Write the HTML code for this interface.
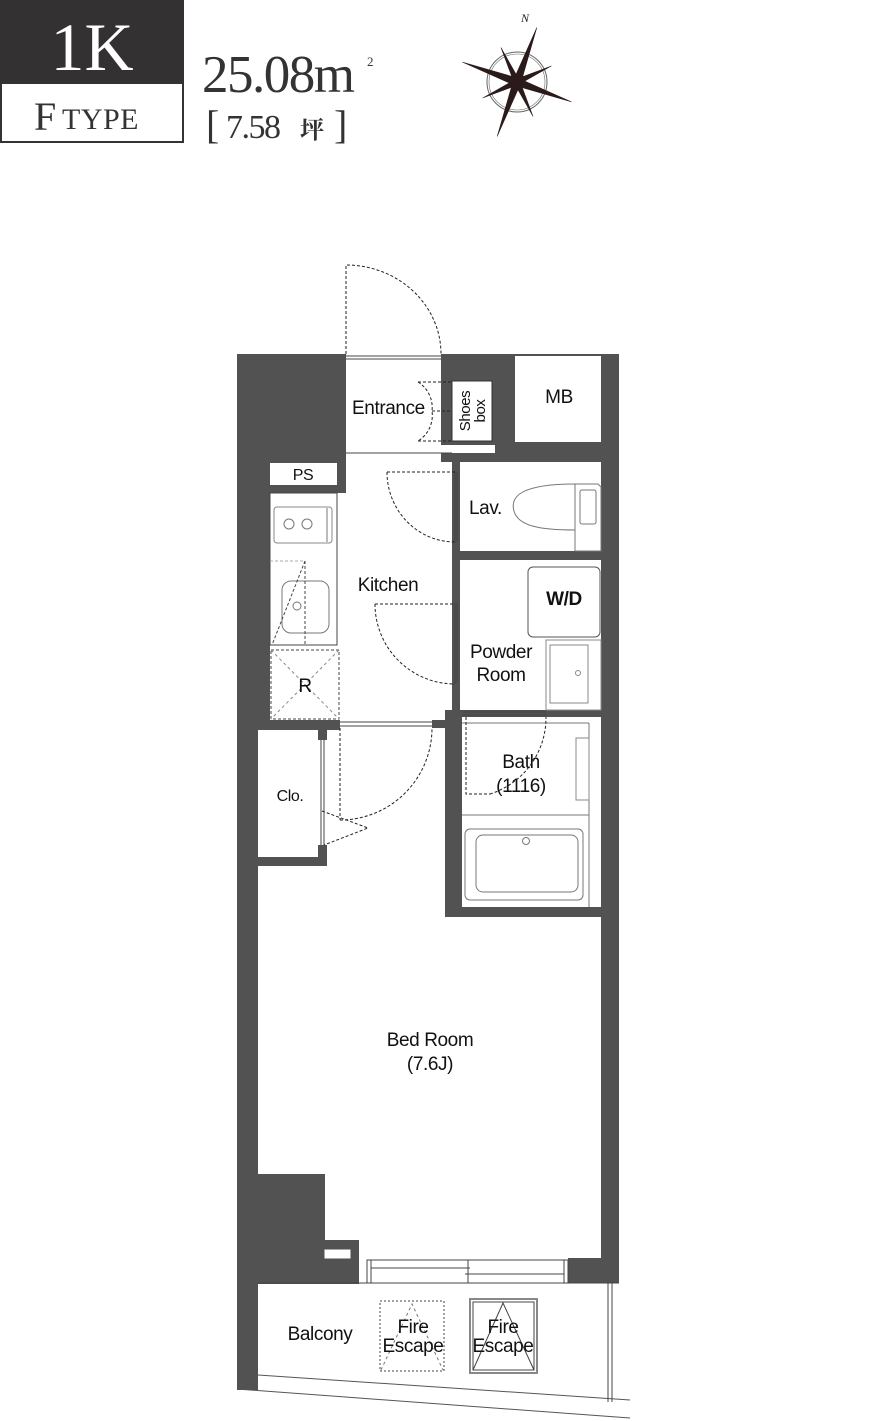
<!DOCTYPE html>
<html><head><meta charset="utf-8"><style>
html,body{margin:0;padding:0;background:#fff;}
svg{display:block}
.s{font-family:"Liberation Sans",sans-serif;fill:#111;}
.r{font-family:"Liberation Serif","Noto Serif CJK SC",serif;}
</style></head><body>
<svg width="870" height="1421" viewBox="0 0 870 1421" xmlns="http://www.w3.org/2000/svg">
<!-- header -->
<rect x="0" y="0" width="184" height="82" fill="#333132"/>
<text x="92" y="70" text-anchor="middle" class="r" font-size="68" fill="#fff">1K</text>
<rect x="1" y="83" width="182" height="59" fill="#fff" stroke="#333" stroke-width="2"/>
<text x="34" y="130" class="r" font-size="40" fill="#333">F</text>
<text x="62" y="129" class="r" font-size="30" fill="#333" letter-spacing="0.5">TYPE</text>
<text x="202" y="92" class="r" font-size="53" fill="#333" letter-spacing="-1.5">25.08m</text>
<text x="367" y="66" class="r" font-size="13" fill="#333">2</text>
<text x="206" y="138" class="r" font-size="40" fill="#333">[</text>
<text x="226" y="138" class="r" font-size="34" fill="#333" letter-spacing="-1.5">7.58</text>
<text x="300" y="138" class="r" font-size="24" fill="#333" font-weight="bold">坪</text>
<text x="334" y="138" class="r" font-size="40" fill="#333">]</text>
<!-- compass -->
<g transform="translate(517,82)" fill="#2a1a1a" stroke="#2a1a1a">
<circle r="30" fill="none" stroke="#666" stroke-width="1"/>
<circle r="28" fill="none" stroke="#666" stroke-width="0.6"/>
<g stroke-width="0.5">
<polygon points="0,-58 4,0 0,58 -4,0" transform="rotate(20)"/>
<polygon points="0,-58 4,0 0,58 -4,0" transform="rotate(110)"/>
<polygon points="0,-38 3,0 0,38 -3,0" transform="rotate(-25)"/>
<polygon points="0,-38 3,0 0,38 -3,0" transform="rotate(65)"/>
</g>
<text x="4" y="-60" font-family="Liberation Serif,serif" font-style="italic" font-size="12" stroke="none">N</text>
</g>
<!-- walls -->
<g fill="#525252">
<rect x="237" y="354" width="109" height="139"/>
<rect x="237" y="354" width="33" height="372"/>
<rect x="237" y="354" width="21" height="1036"/>
<polygon points="237,1380 258,1383 258,1390 237,1388"/>
<rect x="441" y="354" width="178" height="108"/>
<rect x="601" y="354" width="18" height="929"/>
<rect x="452" y="453" width="8" height="264"/>
<rect x="452" y="551" width="150" height="9"/>
<rect x="445" y="710" width="157" height="7"/>
<rect x="445" y="710" width="17" height="207"/>
<rect x="445" y="907" width="157" height="10"/>
<rect x="258" y="720" width="82" height="10"/>
<rect x="432" y="720" width="20" height="8"/>
<rect x="318" y="720" width="9" height="20"/>
<rect x="318" y="845" width="9" height="21"/>
<rect x="258" y="857" width="69" height="9"/>
<rect x="258" y="1174" width="67" height="110"/>
<rect x="258" y="1240" width="101" height="44"/>
<rect x="568" y="1258" width="51" height="25"/>
</g>
<g fill="#fff">
<rect x="346" y="354" width="95" height="91"/>
<rect x="346" y="445" width="149" height="8"/>
<rect x="452" y="381" width="40" height="60" stroke="#333" stroke-width="1"/>
<rect x="515" y="356" width="86" height="86"/>
<rect x="270" y="463" width="67" height="22"/>
<rect x="460" y="462" width="141" height="89"/>
<rect x="460" y="560" width="141" height="150"/>
<rect x="462" y="717" width="139" height="190"/>
<rect x="258" y="730" width="60" height="127"/>
<rect x="324" y="1249" width="27" height="10" stroke="#525252"/>
</g>
<!-- lines -->
<g fill="none" stroke="#444" stroke-width="1">
<line x1="346" y1="453" x2="452" y2="453"/>
<rect x="270" y="493" width="67" height="152"/>
<rect x="274" y="507" width="58" height="36" rx="3" stroke="#888"/>
<line x1="327" y1="508" x2="327" y2="542" stroke="#bbb" stroke-width="2"/>
<circle cx="289" cy="524" r="5" stroke="#777"/><circle cx="307" cy="524" r="5" stroke="#777"/>
<rect x="282" y="581" width="47" height="52" rx="9" stroke="#777"/>
<circle cx="297" cy="606" r="4" stroke="#777"/>
<line x1="305" y1="561" x2="305" y2="645" stroke-dasharray="3,2"/>
<line x1="305" y1="561" x2="272" y2="645" stroke-dasharray="3,2"/>
<line x1="270" y1="561" x2="305" y2="561" stroke="#aaa" stroke-dasharray="3,2"/>
<rect x="271" y="650" width="68" height="69" stroke-dasharray="3,2"/>
<line x1="271" y1="650" x2="339" y2="719" stroke="#888" stroke-dasharray="3,3"/>
<line x1="339" y1="650" x2="271" y2="719" stroke="#888" stroke-dasharray="3,3"/>
<path d="M575,484 L598,484 L601,487 L601,551 L575,551 Z" stroke="#777"/>
<path d="M575,484 C520,484 510,497 514,511 C518,526 540,530 575,530" stroke="#777"/>
<rect x="580" y="490" width="16" height="34" rx="2" stroke="#777"/>
<rect x="528" y="567" width="72" height="70" rx="5" stroke="#555"/>
<rect x="546" y="640" width="55" height="70" stroke="#888"/>
<rect x="550" y="645" width="38" height="58" stroke="#888"/>
<circle cx="578" cy="673" r="2.5" stroke="#888"/>
<line x1="462" y1="815" x2="589" y2="815" stroke="#777"/>
<line x1="462" y1="723" x2="589" y2="723" stroke="#777"/>
<line x1="589" y1="723" x2="589" y2="907" stroke="#777"/>
<rect x="576" y="738" width="13" height="62" stroke="#888"/>
<rect x="465" y="829" width="118" height="71" rx="5" stroke="#777"/>
<rect x="476" y="835" width="102" height="57" rx="7" stroke="#777"/>
<circle cx="526" cy="841" r="3.5" stroke="#777"/>
<line x1="346" y1="356" x2="441" y2="356"/><line x1="346" y1="359" x2="441" y2="359"/>
<line x1="455" y1="472" x2="455" y2="542"/><line x1="457" y1="472" x2="457" y2="542"/>
<line x1="455" y1="603" x2="455" y2="683"/><line x1="457" y1="603" x2="457" y2="683"/>
<line x1="340" y1="722" x2="432" y2="722"/><line x1="340" y1="726" x2="432" y2="726"/>
<line x1="321" y1="740" x2="321" y2="845"/><line x1="324" y1="740" x2="324" y2="845"/>
<line x1="463" y1="712" x2="546" y2="712"/><line x1="463" y1="715" x2="546" y2="715"/>
<rect x="367" y="1260" width="201" height="23"/>
<line x1="371" y1="1260" x2="371" y2="1283"/><line x1="564" y1="1260" x2="564" y2="1283"/>
<line x1="371" y1="1268" x2="470" y2="1268"/><line x1="465" y1="1274" x2="564" y2="1274"/>
<line x1="468" y1="1260" x2="468" y2="1283"/>
<line x1="258" y1="1283" x2="619" y2="1283"/>
<line x1="258" y1="1375" x2="630" y2="1400" stroke="#555"/>
<line x1="237" y1="1389" x2="630" y2="1418" stroke="#555"/>
<line x1="608" y1="1283" x2="608" y2="1402"/><line x1="612" y1="1283" x2="612" y2="1402"/>
<rect x="380" y="1301" width="64" height="70" stroke-dasharray="2,2"/>
<path d="M381,1370 L412,1304 L443,1370" stroke="#777" stroke-dasharray="3,3"/>
<rect x="470" y="1299" width="67" height="74" stroke="#888" stroke-width="2"/>
<rect x="473" y="1302" width="61" height="68"/>
<path d="M473,1370 L503,1303 L534,1370"/>
</g>
<g fill="none" stroke="#222" stroke-width="1" stroke-dasharray="3,2">
<path d="M346,354 L346,265 A95,89 0 0 1 441,354"/>
<path d="M418,382 L452,382 M418,441 L452,441 M418,382 A30,30 0 0 1 432,411 A30,30 0 0 1 418,441 M432,411 L452,411"/>
<path d="M387,472 L455,472 M387,472 A68,70 0 0 0 455,542"/>
<path d="M375,604 L455,604 M375,604 A80,80 0 0 0 455,684"/>
<path d="M340,728 L340,820 M340,820 A92,92 0 0 0 432,728"/>
<path d="M322,811 L368,828 L324,845"/>
<path d="M466,717 L466,794 L490,794 M490,794 A80,80 0 0 0 546,717"/>
</g>
<g class="s" font-size="19" letter-spacing="-0.4">
<text x="352" y="414">Entrance</text>
<text x="559" y="403" text-anchor="middle">MB</text>
<text x="303" y="480" text-anchor="middle" font-size="16">PS</text>
<text x="469" y="514">Lav.</text>
<text x="388" y="591" text-anchor="middle">Kitchen</text>
<text x="564" y="605" text-anchor="middle" font-weight="bold">W/D</text>
<text x="501" y="658" text-anchor="middle">Powder</text>
<text x="501" y="681" text-anchor="middle">Room</text>
<text x="305" y="692" text-anchor="middle">R</text>
<text x="521" y="768" text-anchor="middle">Bath</text>
<text x="521" y="792" text-anchor="middle">(1116)</text>
<text x="290" y="801" text-anchor="middle" font-size="16">Clo.</text>
<text x="430" y="1046" text-anchor="middle">Bed Room</text>
<text x="430" y="1070" text-anchor="middle">(7.6J)</text>
<text x="320" y="1340" text-anchor="middle">Balcony</text>
<text x="413" y="1333" text-anchor="middle">Fire</text>
<text x="413" y="1352" text-anchor="middle">Escape</text>
<text x="503" y="1333" text-anchor="middle">Fire</text>
<text x="503" y="1352" text-anchor="middle">Escape</text>
<text transform="translate(470,411) rotate(-90)" text-anchor="middle" font-size="15">Shoes</text>
<text transform="translate(485,411) rotate(-90)" text-anchor="middle" font-size="15">box</text>
</g>
</svg>
</body></html>
